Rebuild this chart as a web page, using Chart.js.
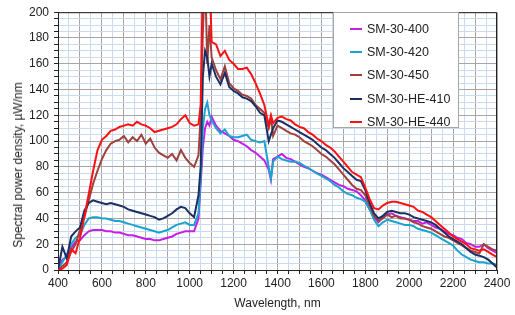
<!DOCTYPE html>
<html>
<head>
<meta charset="utf-8">
<script src="https://cdn.jsdelivr.net/npm/chart.js@4.4.1/dist/chart.umd.min.js"></script>
<style>
  body { margin: 0; background: #fff; font-family: "Liberation Sans", Arial, sans-serif; }
  .wrap { position: relative; width: 515px; height: 315px; }
  .legend { position: absolute; left: 333px; top: 12px; width: 126px; height: 116px; background: #fff; border: 1px solid #a6a6a6; box-sizing: border-box; padding-top: 4px; }
  .legend_line { height: 23.4px; display: flex; align-items: center; font-size: 12.5px; color: #222; }
  .legend_point { width: 12px; height: 2px; margin-left: 16px; margin-right: 5px; }
  .y_title { position: absolute; left: 18px; top: 165px; transform: translate(-50%, -50%) rotate(-90deg); white-space: nowrap; font-size: 12px; color: #222; }
</style>
</head>
<body>
<div class="wrap">
  <canvas id="graph" width="515" height="315"></canvas>
  <div class="y_title">Spectral power density, µW/nm</div>
  <div class="legend"></div>
</div>
<script>
const wavelengths = [400,420,440,460,480,500,520,540,560,580,600,620,640,660,680,700,720,740,760,780,800,820,840,860,880,900,920,940,960,980,1000,1020,1040,
  1050,1060,1070,1080,1090,
  1100,1120,1140,1160,1180,1200,1220,1240,1260,1280,1300,1320,1340,
  1360,1370,1380,
  1400,1420,1440,1460,1480,1500,1520,1540,1560,1580,1600,1620,1640,1660,1680,1700,1720,1740,1760,1780,1800,1820,1840,1860,1880,1900,1920,1940,1960,1980,2000,2020,2040,2060,2080,2100,2120,2140,2160,2180,2200,2220,2240,2260,2280,2300,2320,2340,2360,2380,2400];

const sm400 = [0,8,10,17,22,23,27,30,31,31,31,30,30,29,29,28,27,27,26,25,24,24,23,23,24,25,26,28,29,30,30,30,40,
  67,95,110,115,112,
  119,112,108,106,104,101,100,98,96,93,91,88,85,
  78,70,86,
  88,90,87,86,84,82,80,79,77,75,74,72,70,68,66,65,63,62,61,58,54,47,41,37,41,43,44,42,41,40,39,38,38,36,37,35,33,32,30,28,27,25,24,21,20,18,18,20,17,15,13];
const sm420 = [0,6,12,20,25,27,35,40,41,41,40,40,39,38,38,37,36,35,34,33,32,31,30,29,30,31,33,35,36,37,35,35,44,
  72,110,125,130,120,
  116,110,106,109,104,103,103,104,105,101,100,99,100,
  80,71,84,
  88,86,85,84,84,83,81,79,77,75,73,71,69,66,64,61,59,58,56,55,53,47,39,34,37,39,38,37,36,35,35,34,32,31,30,29,27,25,23,21,19,15,12,10,8,7,6,6,5,5,4];
const sm450 = [0,3,6,14,20,31,41,54,67,77,86,93,98,100,101,104,99,103,100,105,98,102,95,91,89,87,90,85,93,87,83,80,89,
  120,185,230,160,190,
  165,155,148,158,145,141,139,136,135,133,128,125,122,
  110,118,104,
  112,110,108,106,105,103,100,98,96,93,90,88,85,82,78,74,70,66,63,62,58,50,42,38,40,43,41,42,40,40,39,37,36,34,33,32,30,28,26,25,23,21,19,17,15,14,13,20,18,16,15];
const smHe410 = [0,18,9,26,30,33,46,52,54,53,52,51,52,51,50,49,47,46,45,44,43,42,41,39,40,42,44,47,49,48,44,41,58,
  80,150,170,165,150,
  160,150,144,153,142,139,137,134,133,131,127,122,120,
  100,105,110,
  116,115,113,111,109,107,105,103,101,98,95,93,90,87,83,79,76,73,70,69,62,52,44,40,42,45,46,45,44,44,43,41,40,39,38,37,35,32,29,26,24,22,20,17,14,12,11,10,8,5,2];
const smHe440 = [0,1,4,16,13,25,41,59,77,93,101,104,108,109,111,112,113,112,115,113,112,110,107,108,109,110,111,113,117,120,114,112,113,
  128,230,230,225,230,
  177,175,166,170,163,160,156,156,157,152,145,137,128,
  112,120,114,
  118,119,117,116,113,111,110,107,105,102,100,97,95,92,88,84,80,76,74,72,64,55,48,47,50,52,53,53,52,51,50,49,46,45,43,41,38,35,32,29,26,24,22,20,17,16,15,16,14,12,10];

const seriesNames = ['SM-30-400', 'SM-30-420', 'SM-30-450', 'SM-30-HE-410', 'SM-30-HE-440'];
const seriesValues = [sm400, sm420, sm450, smHe410, smHe440];
const seriesColors = ['#c31fe8', '#1aa3cf', '#a0403d', '#1b2f63', '#ff1010'];
const drawOrder = [4, 3, 2, 1, 0];

document.querySelectorAll('.legend').forEach((legend) => {
  let innerHtml = '';
  seriesNames.forEach((name, i) => {
    innerHtml += '<div class="legend_line"><div class="legend_point" style="background:' + seriesColors[i] + '"></div>' + name + '</div>';
  });
  legend.innerHTML = innerHtml;
});

const frame = {
  id: 'frame',
  afterDatasetsDraw(chart) {
    const a = chart.chartArea;
    const c = chart.ctx;
    c.save();
    c.strokeStyle = '#222';
    c.lineWidth = 1;
    c.beginPath();
    c.moveTo(a.left, a.top + 0.5);
    c.lineTo(a.right - 0.5, a.top + 0.5);
    c.lineTo(a.right - 0.5, a.bottom);
    c.stroke();
    c.restore();
  }
};

const font = { family: '"Liberation Sans", Arial, sans-serif', size: 12 };

new Chart(document.getElementById('graph'), {
  type: 'line',
  data: {
    datasets: seriesNames.map((name, i) => ({
      label: name,
      data: seriesValues[i].map((v, j) => ({ x: wavelengths[j], y: v })),
      borderColor: seriesColors[i],
      borderWidth: 2,
      pointRadius: 0,
      tension: 0,
      order: drawOrder[i]
    }))
  },
  options: {
    responsive: false,
    animation: false,
    layout: { padding: { top: 12, right: 18, left: 0 } },
    plugins: { legend: { display: false }, tooltip: { enabled: false } },
    scales: {
      x: {
        type: 'linear',
        min: 400,
        max: 2400,
        afterFit: (s) => { s.height = 45; },
        border: { color: '#222', width: 1 },
        grid: {
          color: (ctx) => ctx.tick && ctx.tick.value % 100 === 0 ? '#a6a6a6' : '#c9dbf0',
          tickColor: '#222',
          tickLength: 4
        },
        ticks: {
          stepSize: 50,
          autoSkip: false,
          maxRotation: 0,
          color: '#222',
          font: font,
          padding: 2,
          callback: (v) => v % 200 === 0 ? v : ''
        },
        title: { display: true, text: 'Wavelength, nm', color: '#222', font: font, padding: { top: 4 } }
      },
      y: {
        min: 0,
        max: 200,
        afterFit: (s) => { s.width = 58; },
        border: { color: '#222', width: 1 },
        grid: {
          color: (ctx) => ctx.tick && ctx.tick.value % 20 === 0 ? '#a6a6a6' : '#c9dbf0',
          tickColor: '#222',
          tickLength: 4
        },
        ticks: {
          stepSize: 5,
          autoSkip: false,
          color: '#222',
          font: font,
          padding: 5,
          callback: (v) => v % 20 === 0 ? v : ''
        }
      }
    }
  },
  plugins: [frame]
});
</script>
</body>
</html>
